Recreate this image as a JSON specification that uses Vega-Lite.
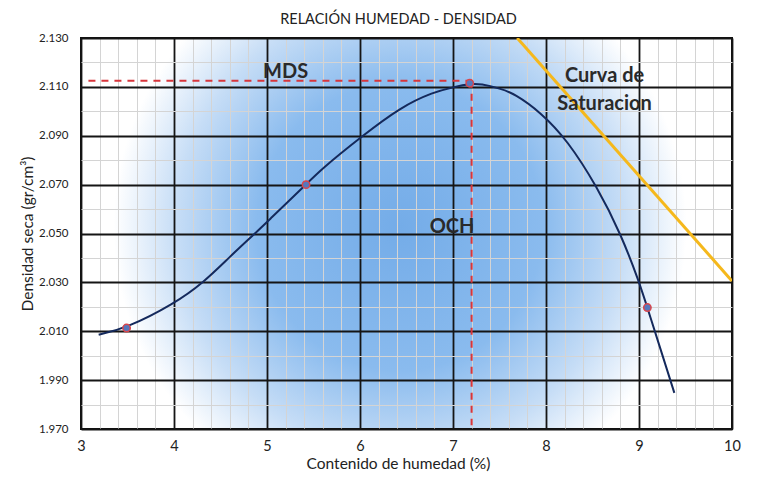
{
  "$schema": "https://vega.github.io/schema/vega-lite/v6.json",
  "autosize": {"type": "none"},
  "padding": {"left": 81, "top": 38, "right": 37, "bottom": 50},
  "width": 651,
  "height": 391,
  "background": "#ffffff",
  "title": {
    "text": "RELACIÓN HUMEDAD - DENSIDAD",
    "font": "Lato",
    "fontSize": 14.5,
    "fontWeight": "normal",
    "color": "#222222",
    "anchor": "middle",
    "dx": -8,
    "offset": 5
  },
  "config": {
    "font": "Lato",
    "view": {
      "stroke": "#111111",
      "strokeWidth": 2,
      "fill": {
        "gradient": "radial",
        "x1": 0.49, "y1": 0.49, "r1": 0,
        "x2": 0.49, "y2": 0.49, "r2": 0.44,
        "stops": [
          {"offset": 0, "color": "#74ace8"},
          {"offset": 0.5, "color": "#8abbee"},
          {"offset": 0.78, "color": "#c6ddf6"},
          {"offset": 1, "color": "#ffffff"}
        ]
      }
    }
  },
  "datasets": {
    "curve": [
      {"w": 3.19, "d": 2.0086},
      {"w": 3.49, "d": 2.0113},
      {"w": 4.0, "d": 2.0212},
      {"w": 4.32, "d": 2.030},
      {"w": 4.60, "d": 2.0405},
      {"w": 4.87, "d": 2.050},
      {"w": 5.01, "d": 2.0551},
      {"w": 5.42, "d": 2.070},
      {"w": 5.57, "d": 2.0759},
      {"w": 6.02, "d": 2.0898},
      {"w": 6.44, "d": 2.1018},
      {"w": 6.79, "d": 2.1079},
      {"w": 7.01, "d": 2.1099},
      {"w": 7.18, "d": 2.1113},
      {"w": 7.30, "d": 2.1113},
      {"w": 7.51, "d": 2.1093},
      {"w": 7.66, "d": 2.1072},
      {"w": 7.94, "d": 2.0997},
      {"w": 8.23, "d": 2.0882},
      {"w": 8.55, "d": 2.0691},
      {"w": 8.81, "d": 2.0494},
      {"w": 9.0, "d": 2.0303},
      {"w": 9.09, "d": 2.0197},
      {"w": 9.38, "d": 1.9848}
    ],
    "points": [
      {"w": 3.49, "d": 2.0113},
      {"w": 5.42, "d": 2.070},
      {"w": 7.18, "d": 2.1115},
      {"w": 9.09, "d": 2.0197}
    ],
    "saturation": [
      {"w": 7.69, "d": 2.130},
      {"w": 10.0, "d": 2.0306}
    ],
    "guides": [
      {"seg": "MDS", "w": 3.08, "d": 2.1125},
      {"seg": "MDS", "w": 7.2, "d": 2.1125},
      {"seg": "OCH", "w": 7.2, "d": 2.1125},
      {"seg": "OCH", "w": 7.2, "d": 1.9715}
    ],
    "labels": [
      {"t": "MDS", "w": 5.2, "d": 2.1159, "a": "center"},
      {"t": "OCH", "w": 6.99, "d": 2.0528, "a": "center"},
      {"t": "Curva de", "w": 8.63, "d": 2.1143, "a": "left"},
      {"t": "Saturacion", "w": 8.63, "d": 2.1029, "a": "left"}
    ]
  },
  "encoding": {
    "x": {
      "field": "w",
      "type": "quantitative",
      "scale": {"domain": [3, 10], "nice": false, "zero": false},
      "axis": {
        "title": "Contenido de humedad (%)",
        "titleFont": "Lato",
        "titleFontSize": 15.5,
        "titleFontWeight": "normal",
        "titleColor": "#222222",
        "titlePadding": 4,
        "titleX": 317,
        "titleAlign": "center",
        "values": [3, 3.2, 3.4, 3.6, 3.8, 4, 4.2, 4.4, 4.6, 4.8, 5, 5.2, 5.4, 5.6, 5.8, 6, 6.2, 6.4, 6.6, 6.8, 7, 7.2, 7.4, 7.6, 7.8, 8, 8.2, 8.4, 8.6, 8.8, 9, 9.2, 9.4, 9.6, 9.8, 10],
        "labelExpr": "abs(datum.value - round(datum.value)) < 0.01 ? format(datum.value, 'd') : ''",
        "labelFontSize": 14.5,
        "labelColor": "#222222",
        "labelPadding": 10,
        "labelFlush": false,
        "labelOverlap": false,
        "ticks": false,
        "domain": false,
        "grid": true,
        "gridColor": {"condition": {"test": "abs(datum.value - round(datum.value)) < 0.01", "value": "#151515"}, "value": "#d4d4d4"},
        "gridWidth": {"condition": {"test": "abs(datum.value - round(datum.value)) < 0.01", "value": 1.8}, "value": 1},
        "gridOpacity": 1
      }
    },
    "y": {
      "field": "d",
      "type": "quantitative",
      "scale": {"domain": [1.97, 2.13], "nice": false, "zero": false},
      "axis": {
        "title": "Densidad seca (gr/cm³)",
        "titleFont": "Lato",
        "titleFontSize": 15.5,
        "titleFontWeight": "normal",
        "titleColor": "#222222",
        "titlePadding": 3,
        "values": [1.97, 1.98, 1.99, 2.0, 2.01, 2.02, 2.03, 2.04, 2.05, 2.06, 2.07, 2.08, 2.09, 2.1, 2.11, 2.12, 2.13],
        "labelExpr": "round(datum.value * 100) % 2 === 1 ? format(datum.value, '.3f') : ''",
        "labelFontSize": 11.5,
        "labelColor": "#222222",
        "labelPadding": 13,
        "labelFlush": false,
        "labelOverlap": false,
        "ticks": false,
        "domain": false,
        "grid": true,
        "gridColor": {"condition": {"test": "round(datum.value * 100) % 2 === 1", "value": "#151515"}, "value": "#d4d4d4"},
        "gridWidth": {"condition": {"test": "round(datum.value * 100) % 2 === 1", "value": 1.8}, "value": 1},
        "gridOpacity": 1
      }
    }
  },
  "layer": [
    {
      "data": {"name": "saturation"},
      "mark": {"type": "line", "color": "#f5b81c", "strokeWidth": 3, "clip": true}
    },
    {
      "data": {"name": "guides"},
      "mark": {"type": "line", "color": "#d8353b", "strokeWidth": 2, "strokeDash": [7, 6]},
      "encoding": {"detail": {"field": "seg", "type": "nominal"}}
    },
    {
      "data": {"name": "curve"},
      "mark": {"type": "line", "color": "#14295c", "strokeWidth": 2, "interpolate": "basis"}
    },
    {
      "data": {"name": "points"},
      "mark": {"type": "point", "filled": false, "fill": "#5677bd", "fillOpacity": 1, "stroke": "#d9464c", "strokeWidth": 1.5, "size": 55, "opacity": 1}
    },
    {
      "data": {"name": "labels"},
      "mark": {"type": "text", "font": "Lato", "fontSize": 20, "fontWeight": "bold", "color": "#2a2a2a", "baseline": "middle"},
      "encoding": {
        "text": {"field": "t", "type": "nominal"},
        "align": {"field": "a", "type": "nominal", "scale": null}
      }
    }
  ]
}
